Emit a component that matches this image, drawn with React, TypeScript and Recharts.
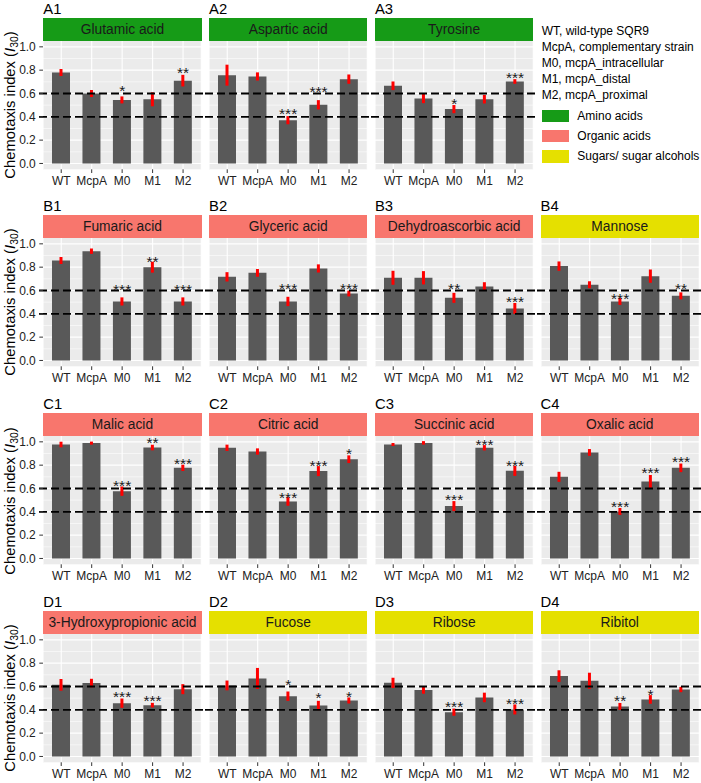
import React from 'react';
import {
  ComposedChart,
  Bar,
  Line,
  XAxis,
  YAxis,
  CartesianGrid,
  ReferenceLine,
  ErrorBar,
  LabelList,
} from 'recharts';

const strains = ['WT', 'McpA', 'M0', 'M1', 'M2'];
const majorTicks = [0, 0.2, 0.4, 0.6, 0.8, 1.0];
const minorTicks = [0.1, 0.3, 0.5, 0.7, 0.9];
const thresholds = [0.6, 0.4];

// chemotaxis index means, standard errors, significance and the height of each significance mark
const glutamicAcid = [0.78, 0.6, 0.545, 0.55, 0.71];
const glutamicAcidSe = [0.03, 0.03, 0.03, 0.06, 0.05];
const glutamicAcidSig = ['', '', '*', '', '**'];
const glutamicAcidSigAt = [null, null, 0.653, null, 0.81];

const asparticAcid = [0.757, 0.746, 0.371, 0.503, 0.723];
const asparticAcidSe = [0.09, 0.035, 0.035, 0.04, 0.04];
const asparticAcidSig = ['', '', '***', '***', ''];
const asparticAcidSigAt = [null, null, 0.457, 0.646, null];

const tyrosine = [0.666, 0.557, 0.466, 0.551, 0.703];
const tyrosineSe = [0.037, 0.04, 0.035, 0.037, 0.02];
const tyrosineSig = ['', '', '*', '', '***'];
const tyrosineSigAt = [null, null, 0.546, null, 0.766];

const fumaricAcid = [0.857, 0.937, 0.506, 0.8, 0.506];
const fumaricAcidSe = [0.03, 0.023, 0.035, 0.047, 0.035];
const fumaricAcidSig = ['', '', '***', '**', '***'];
const fumaricAcidSigAt = [null, null, 0.636, 0.879, 0.636];

const glycericAcid = [0.717, 0.751, 0.506, 0.789, 0.574];
const glycericAcidSe = [0.04, 0.033, 0.04, 0.035, 0.025];
const glycericAcidSig = ['', '', '***', '', '***'];
const glycericAcidSigAt = [null, null, 0.651, null, 0.651];

const dehydroascorbicAcid = [0.709, 0.709, 0.537, 0.634, 0.446];
const dehydroascorbicAcidSe = [0.06, 0.057, 0.043, 0.037, 0.047];
const dehydroascorbicAcidSig = ['', '', '**', '', '***'];
const dehydroascorbicAcidSigAt = [null, null, 0.651, null, 0.537];

const mannose = [0.809, 0.649, 0.506, 0.723, 0.554];
const mannoseSe = [0.04, 0.03, 0.03, 0.057, 0.03];
const mannoseSig = ['', '', '***', '', '**'];
const mannoseSigAt = [null, null, 0.56, null, 0.651];

const malicAcid = [0.977, 0.989, 0.577, 0.951, 0.777];
const malicAcidSe = [0.024, 0.013, 0.04, 0.024, 0.027];
const malicAcidSig = ['', '', '***', '**', '***'];
const malicAcidSigAt = [null, null, 0.657, 1.02, 0.843];

const citricAcid = [0.949, 0.917, 0.489, 0.749, 0.851];
const citricAcidSe = [0.027, 0.027, 0.037, 0.043, 0.033];
const citricAcidSig = ['', '', '***', '***', '*'];
const citricAcidSigAt = [null, null, 0.554, 0.829, 0.929];

const succinicAcid = [0.977, 0.991, 0.449, 0.949, 0.751];
const succinicAcidSe = [0.013, 0.015, 0.043, 0.023, 0.043];
const succinicAcidSig = ['', '', '***', '***', '***'];
const succinicAcidSigAt = [null, null, 0.534, 1.009, 0.831];

const oxalicAcid = [0.7, 0.909, 0.403, 0.66, 0.777];
const oxalicAcidSe = [0.043, 0.029, 0.03, 0.056, 0.037];
const oxalicAcidSig = ['', '', '***', '***', '***'];
const oxalicAcidSigAt = [null, null, 0.477, 0.763, 0.86];

const hydroxypropionicAcid = [0.614, 0.629, 0.457, 0.44, 0.577];
const hydroxypropionicAcidSe = [0.05, 0.037, 0.04, 0.02, 0.043];
const hydroxypropionicAcidSig = ['', '', '***', '***', ''];
const hydroxypropionicAcidSigAt = [null, null, 0.543, 0.509, null];

const fucose = [0.609, 0.669, 0.517, 0.437, 0.48];
const fucoseSe = [0.042, 0.09, 0.04, 0.04, 0.026];
const fucoseSig = ['', '', '*', '*', '*'];
const fucoseSigAt = [null, null, 0.646, 0.534, 0.546];

const ribose = [0.631, 0.569, 0.38, 0.506, 0.403];
const riboseSe = [0.044, 0.031, 0.031, 0.041, 0.043];
const riboseSig = ['', '', '***', '', '***'];
const riboseSigAt = [null, null, 0.46, null, 0.483];

const ribitol = [0.689, 0.649, 0.429, 0.489, 0.574];
const ribitolSe = [0.05, 0.069, 0.03, 0.037, 0.023];
const ribitolSig = ['', '', '**', '*', ''];
const ribitolSigAt = [null, null, 0.509, 0.56, null];

const strainNotes = [
  'WT, wild-type SQR9',
  'McpA, complementary strain',
  'M0, mcpA_intracellular',
  'M1, mcpA_distal',
  'M2, mcpA_proximal',
];
const groupNames = ['Amino acids', 'Organic acids', 'Sugars/ sugar alcohols'];
const groupColors = ['#169B17', '#F8766D', '#E5E000'];

type Panel = {
  tag: string;
  title: string;
  group: number;
  mean: number[];
  se: number[];
  sig: string[];
  sigAt: (number | null)[];
  row: number;
  col: number;
};

const panels: Panel[] = [
  { tag: 'A1', title: 'Glutamic acid', group: 0, mean: glutamicAcid, se: glutamicAcidSe, sig: glutamicAcidSig, sigAt: glutamicAcidSigAt, row: 0, col: 0 },
  { tag: 'A2', title: 'Aspartic acid', group: 0, mean: asparticAcid, se: asparticAcidSe, sig: asparticAcidSig, sigAt: asparticAcidSigAt, row: 0, col: 1 },
  { tag: 'A3', title: 'Tyrosine', group: 0, mean: tyrosine, se: tyrosineSe, sig: tyrosineSig, sigAt: tyrosineSigAt, row: 0, col: 2 },
  { tag: 'B1', title: 'Fumaric acid', group: 1, mean: fumaricAcid, se: fumaricAcidSe, sig: fumaricAcidSig, sigAt: fumaricAcidSigAt, row: 1, col: 0 },
  { tag: 'B2', title: 'Glyceric acid', group: 1, mean: glycericAcid, se: glycericAcidSe, sig: glycericAcidSig, sigAt: glycericAcidSigAt, row: 1, col: 1 },
  { tag: 'B3', title: 'Dehydroascorbic acid', group: 1, mean: dehydroascorbicAcid, se: dehydroascorbicAcidSe, sig: dehydroascorbicAcidSig, sigAt: dehydroascorbicAcidSigAt, row: 1, col: 2 },
  { tag: 'B4', title: 'Mannose', group: 2, mean: mannose, se: mannoseSe, sig: mannoseSig, sigAt: mannoseSigAt, row: 1, col: 3 },
  { tag: 'C1', title: 'Malic acid', group: 1, mean: malicAcid, se: malicAcidSe, sig: malicAcidSig, sigAt: malicAcidSigAt, row: 2, col: 0 },
  { tag: 'C2', title: 'Citric acid', group: 1, mean: citricAcid, se: citricAcidSe, sig: citricAcidSig, sigAt: citricAcidSigAt, row: 2, col: 1 },
  { tag: 'C3', title: 'Succinic acid', group: 1, mean: succinicAcid, se: succinicAcidSe, sig: succinicAcidSig, sigAt: succinicAcidSigAt, row: 2, col: 2 },
  { tag: 'C4', title: 'Oxalic acid', group: 1, mean: oxalicAcid, se: oxalicAcidSe, sig: oxalicAcidSig, sigAt: oxalicAcidSigAt, row: 2, col: 3 },
  { tag: 'D1', title: '3-Hydroxypropionic acid', group: 1, mean: hydroxypropionicAcid, se: hydroxypropionicAcidSe, sig: hydroxypropionicAcidSig, sigAt: hydroxypropionicAcidSigAt, row: 3, col: 0 },
  { tag: 'D2', title: 'Fucose', group: 2, mean: fucose, se: fucoseSe, sig: fucoseSig, sigAt: fucoseSigAt, row: 3, col: 1 },
  { tag: 'D3', title: 'Ribose', group: 2, mean: ribose, se: riboseSe, sig: riboseSig, sigAt: riboseSigAt, row: 3, col: 2 },
  { tag: 'D4', title: 'Ribitol', group: 2, mean: ribitol, se: ribitolSe, sig: ribitolSig, sigAt: ribitolSigAt, row: 3, col: 3 },
];

// layout
const colLeft = [43.3, 209.1, 375, 540.6];
const rowTop = [41, 238.3, 436.4, 634.3];
const plotW = 158.3;
const plotH = 128.3;
const stripH = 23.5;
const axisW = 31;
const sideM = 5;
const topM = 10;
const xAxisH = 24;
const font = '"Liberation Sans", Arial, Helvetica, sans-serif';

const StarLabel = (p: any) => {
  if (!p.value) return null;
  const x = p.x ?? p.viewBox?.x;
  const y = p.y ?? p.viewBox?.y;
  if (x == null || y == null) return null;
  return (
    <text x={x} y={y} dy={9} textAnchor="middle" fontSize={15.5} fill="#1a1a1a">
      {p.value}
    </text>
  );
};

const DashedThreshold = (p: any) => (
  <line
    x1={p.x1 - 4}
    y1={p.y1}
    x2={p.x2 + 4}
    y2={p.y2}
    stroke="#000"
    strokeWidth={1.8}
    strokeDasharray="8 4"
  />
);

const PanelChart = ({ panel }: { panel: Panel }) => {
  const first = panel.col === 0;
  const yw = first ? axisW : 0;
  const data = strains.map((s, i) => ({
    strain: s,
    mean: panel.mean[i],
    se: panel.se[i],
    sig: panel.sig[i],
    sigAt: panel.sigAt[i] ?? panel.mean[i],
  }));
  const top = rowTop[panel.row];
  const left = colLeft[panel.col];
  return (
    <>
      <div
        style={{
          position: 'absolute',
          left: left,
          top: top - stripH - 16.5,
          fontSize: 14.8,
          lineHeight: '17px',
          color: '#000',
        }}
      >
        {panel.tag}
      </div>
      <div
        style={{
          position: 'absolute',
          left: left,
          top: top - stripH,
          width: plotW,
          height: stripH,
          background: groupColors[panel.group],
          color: '#1a1a1a',
          fontSize: 13.8,
          lineHeight: stripH + 'px',
          textAlign: 'center',
          whiteSpace: 'nowrap',
        }}
      >
        {panel.title}
      </div>
      <div style={{ position: 'absolute', left: left - sideM - yw, top: top - topM }}>
        <ComposedChart
          width={yw + sideM * 2 + plotW}
          height={topM + plotH + xAxisH}
          data={data}
          margin={{ top: topM, right: sideM, bottom: 0, left: sideM }}
        >
          <CartesianGrid
            fill="#EBEBEB"
            stroke="#FFFFFF"
            strokeWidth={1.1}
            horizontalValues={majorTicks}
          />
          <CartesianGrid
            stroke="#FFFFFF"
            strokeWidth={0.55}
            vertical={false}
            horizontalValues={minorTicks}
          />
          <XAxis
            dataKey="strain"
            interval={0}
            axisLine={false}
            tickLine={{ stroke: '#333', strokeWidth: 1 }}
            tickSize={3.7}
            tickMargin={3}
            height={xAxisH}
            padding={{ left: 3, right: 3 }}
            tick={{ fontSize: 12, fill: '#222' }}
          />
          <YAxis
            type="number"
            domain={[-0.05, 1.05]}
            ticks={majorTicks}
            allowDataOverflow
            hide={!first}
            width={axisW}
            axisLine={false}
            tickLine={{ stroke: '#333', strokeWidth: 1 }}
            tickSize={3.7}
            tickMargin={3.5}
            tick={{ fontSize: 12, fill: '#222' }}
            tickFormatter={(v: number) => v.toFixed(1)}
          />
          <Bar dataKey="mean" fill="#595959" barSize={18} isAnimationActive={false}>
            <ErrorBar dataKey="se" width={0} stroke="#FF0000" strokeWidth={3} direction="y" />
          </Bar>
          {thresholds.map((t) => (
            <ReferenceLine key={t} y={t} shape={DashedThreshold} />
          ))}
          <Line
            dataKey="sigAt"
            stroke="none"
            dot={false}
            activeDot={false}
            legendType="none"
            isAnimationActive={false}
          >
            <LabelList dataKey="sig" content={StarLabel} />
          </Line>
        </ComposedChart>
      </div>
    </>
  );
};

export default function App() {
  return (
    <div
      style={{
        position: 'absolute',
        left: 0,
        top: 0,
        width: 701,
        height: 783,
        background: '#fff',
        fontFamily: font,
        overflow: 'hidden',
      }}
    >
      {panels.map((p) => (
        <PanelChart key={p.tag} panel={p} />
      ))}
      {rowTop.map((t, i) => (
        <div
          key={i}
          style={{
            position: 'absolute',
            left: 9.5,
            top: t + plotH / 2,
            transform: 'translate(-50%, -50%) rotate(-90deg)',
            whiteSpace: 'nowrap',
            fontSize: 14.8,
            lineHeight: '17px',
            color: '#000',
          }}
        >
          Chemotaxis index (<i>I</i>
          <sub style={{ fontSize: '0.7em', lineHeight: 0 }}>30</sub>)
        </div>
      ))}
      {strainNotes.map((n, i) => (
        <div
          key={n}
          style={{
            position: 'absolute',
            left: 541.7,
            top: 22.7 + i * 16.1,
            fontSize: 12,
            lineHeight: '16px',
            whiteSpace: 'nowrap',
            color: '#000',
          }}
        >
          {n}
        </div>
      ))}
      {groupNames.map((g, i) => (
        <React.Fragment key={g}>
          <div
            style={{
              position: 'absolute',
              left: 541.7,
              top: 109.5 + i * 20.3,
              width: 27.3,
              height: 12.5,
              background: groupColors[i],
            }}
          />
          <div
            style={{
              position: 'absolute',
              left: 577.3,
              top: 107.7 + i * 20.3,
              fontSize: 12,
              lineHeight: '16px',
              whiteSpace: 'nowrap',
              color: '#000',
            }}
          >
            {g}
          </div>
        </React.Fragment>
      ))}
    </div>
  );
}
